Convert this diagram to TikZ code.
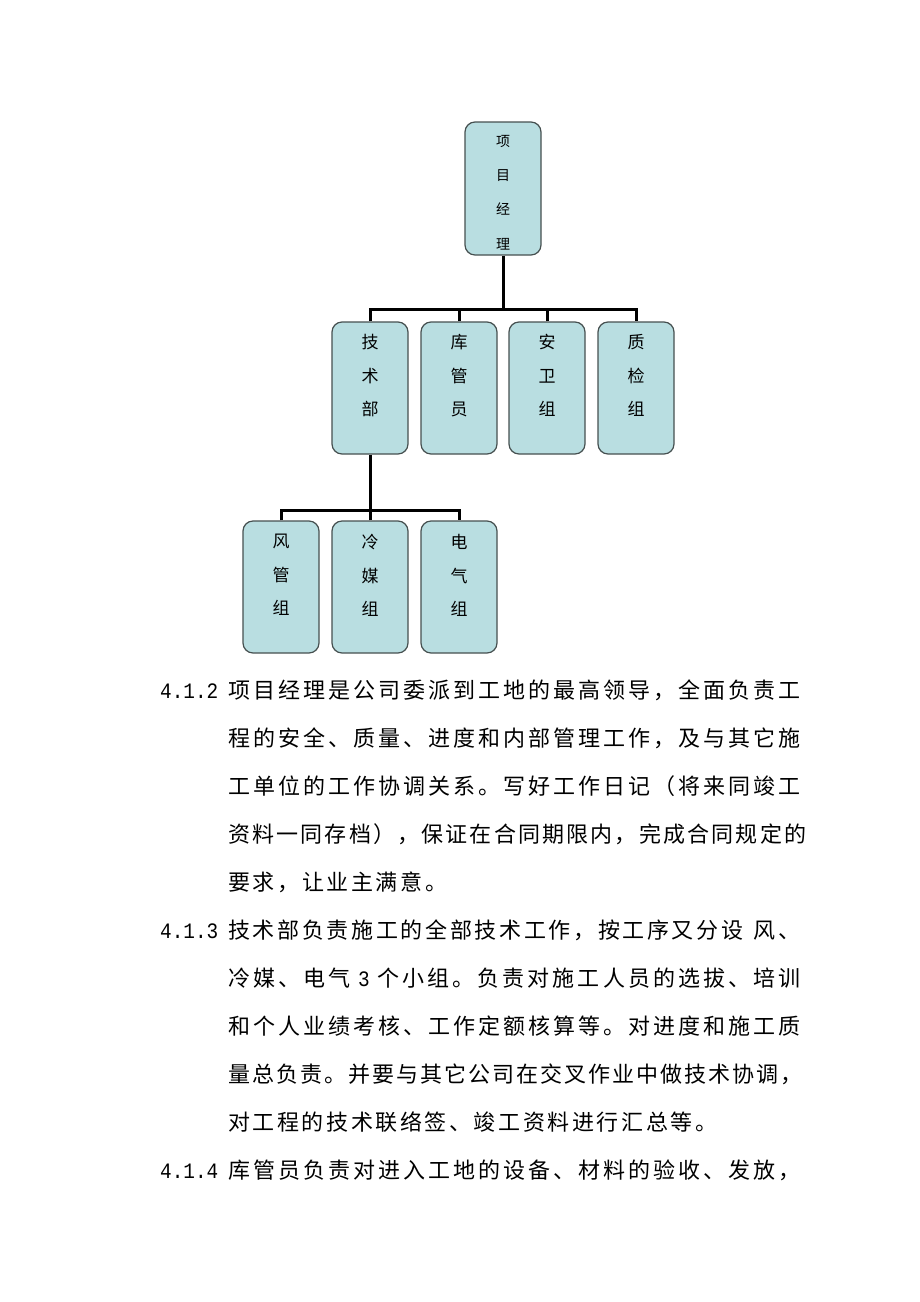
\documentclass[tikz,border=0pt]{standalone}
\usepackage{fontspec}
\newfontfamily\cjk{Noto Sans CJK SC}
\newfontfamily\numfont[FakeStretch=0.88]{Liberation Mono}
\definecolor{boxfill}{RGB}{185,222,225}
\definecolor{boxline}{RGB}{70,80,80}
\makeatletter
\newcommand\spreadto[2]{\hbox to #1{\@tfor\sp@ch:=#2\do{\sp@ch\hfill}\unskip}}
\makeatother
\newcommand\boxtext[5]{\parbox[c][#1][t]{76pt}{\centering\fontsize{#3}{#4}\selectfont\cjk\vspace*{#2}#5\par}}
\begin{document}
\begin{tikzpicture}[x=1pt,y=-1pt,
  orgbox/.style={draw=boxline,fill=boxfill,rounded corners=10pt,inner sep=0pt,line width=1.2pt},
  conn/.style={line width=3pt,black},
  para/.style={anchor=base west,inner sep=0pt,font=\cjk\fontsize{22}{26}\selectfont},
  num/.style={anchor=base west,inner sep=0pt,font=\numfont\fontsize{22}{26}\selectfont}]
\fill[white] (0,0) rectangle (920,1302);
\useasboundingbox (0,0) rectangle (920,1302);
% top
\node[orgbox] (pm) at (503,188.5) {\boxtext{133pt}{13pt}{14}{34.3}{项\\目\\经\\理}};
% middle row
\node[orgbox] (js) at (370,388) {\boxtext{132pt}{12.5pt}{17}{33.5}{技\\术\\部}};
\node[orgbox] (kg) at (459,388) {\boxtext{132pt}{12.5pt}{17}{33.5}{库\\管\\员}};
\node[orgbox] (aw) at (547,388) {\boxtext{132pt}{12.5pt}{17}{33.5}{安\\卫\\组}};
\node[orgbox] (zj) at (636,388) {\boxtext{132pt}{12.5pt}{17}{33.5}{质\\检\\组}};
% bottom row
\node[orgbox] (fg) at (281,587) {\boxtext{132pt}{13.5pt}{17}{33.5}{风\\管\\组}};
\node[orgbox] (lm) at (370,587) {\boxtext{132pt}{13.5pt}{17}{33.5}{冷\\媒\\组}};
\node[orgbox] (dq) at (459,587) {\boxtext{132pt}{13.5pt}{17}{33.5}{电\\气\\组}};
% connectors
\coordinate (bus1) at (503,309);
\draw[conn] (pm.south) -- (bus1);
\draw[conn] (js.north) |- (bus1) -| (zj.north);
\draw[conn] (kg.north) -- (kg.north |- bus1);
\draw[conn] (aw.north) -- (aw.north |- bus1);
\coordinate (bus2) at (370,510);
\draw[conn] (js.south) -- (bus2);
\draw[conn] (fg.north) |- (bus2) -| (dq.north);
\draw[conn] (lm.north) -- (lm.north |- bus2);
% paragraph text
\node[num] (n1) at (160,698) {4.1.2};
\node[para] (t1) at (228,698) {\spreadto{572pt}{项目经理是公司委派到工地的最高领导，全面负责工}};
\node[para] (t2) at (228,746) {\spreadto{572pt}{程的安全、质量、进度和内部管理工作，及与其它施}};
\node[para] (t3) at (228,794) {\spreadto{572pt}{工单位的工作协调关系。写好工作日记（将来同竣工}};
\node[para] (t4) at (228,842) {\spreadto{578pt}{资料一同存档），保证在合同期限内，完成合同规定的}};
\node[para] (t5) at (228,890) {\spreadto{219pt}{要求，让业主满意。}};
\node[num] (n2) at (160,938) {4.1.3};
\node[para] (t6) at (228,938) {\spreadto{572pt}{技术部负责施工的全部技术工作，按工序又分设~风、}};
\node[para] (t7) at (228,986) {\spreadto{572pt}{冷媒、电气{~{\numfont 3}~}个小组。负责对施工人员的选拔、培训}};
\node[para] (t8) at (228,1034) {\spreadto{572pt}{和个人业绩考核、工作定额核算等。对进度和施工质}};
\node[para] (t9) at (228,1082) {\spreadto{574pt}{量总负责。并要与其它公司在交叉作业中做技术协调，}};
\node[para] (t10) at (228,1130) {\spreadto{489pt}{对工程的技术联络签、竣工资料进行汇总等。}};
\node[num] (n3) at (160,1178) {4.1.4};
\node[para] (t11) at (228,1178) {\spreadto{572pt}{库管员负责对进入工地的设备、材料的验收、发放，}};
\end{tikzpicture}
\end{document}
